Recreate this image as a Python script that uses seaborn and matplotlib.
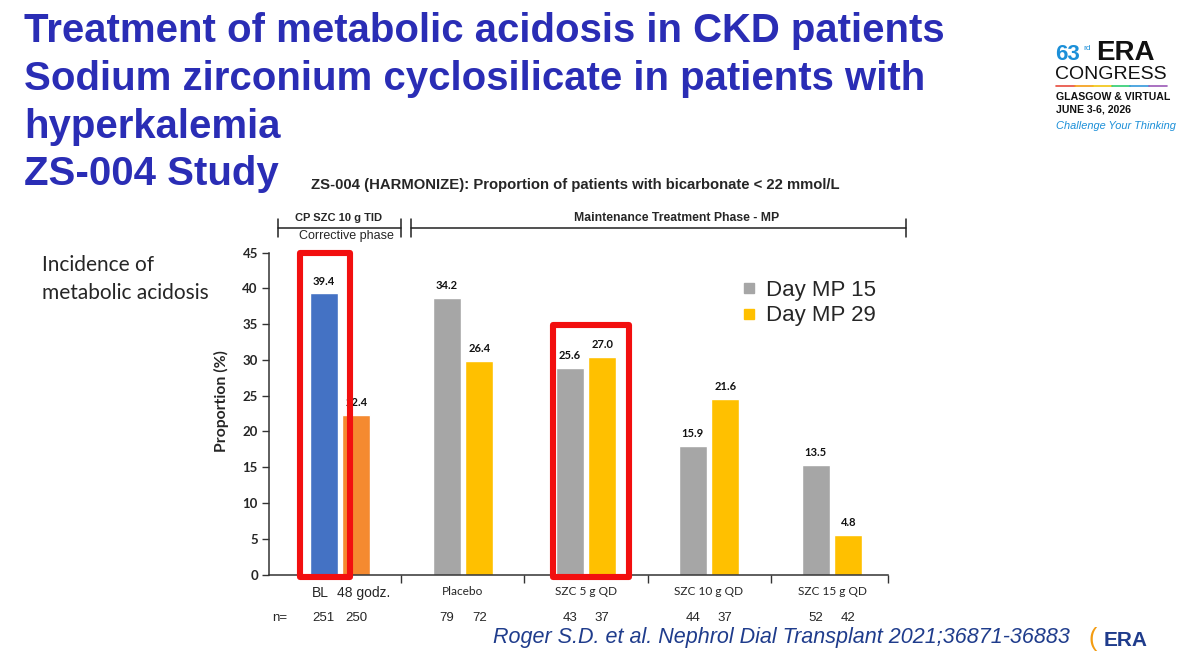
import numpy as np
import pandas as pd
import matplotlib.pyplot as plt
import seaborn as sns
from matplotlib.lines import Line2D
from matplotlib.patches import Rectangle

# values
groups = ["BL / 48 godz.", "Placebo", "SZC 5 g QD", "SZC 10 g QD", "SZC 15 g QD"]
day15_bar = [39.3, 38.7, 28.9, 18.0, 15.3]
day29_bar = [22.3, 29.8, 30.4, 24.5, 5.5]
day15_lbl = ["39.4", "34.2", "25.6", "15.9", "13.5"]
day29_lbl = ["22.4", "26.4", "27.0", "21.6", "4.8"]
n_day15 = [251, 79, 43, 44, 52]
n_day29 = [250, 72, 37, 37, 42]
tick_labels = ["BL", "48 godz.", "Placebo", "SZC 5 g QD", "SZC 10 g QD", "SZC 15 g QD"]
series = ["Day MP 15", "Day MP 29"]

df = pd.DataFrame({
    "group": groups * 2,
    "series": [series[0]] * 5 + [series[1]] * 5,
    "value": day15_bar + day29_bar,
})

sns.set_style("ticks")
plt.rcParams["font.family"] = ["Liberation Sans", "DejaVu Sans"]

W, H = 1200, 654
fig = plt.figure(figsize=(12, 6.54), dpi=100)


def fx(x):
    return x / W


def fy(y):
    return 1 - y / H


ax = fig.add_axes([fx(269), fy(574.5), (888 - 269) / W, (574.5 - 252.7) / H])

gray, yellow = "#A6A6A6", "#FFC000"
sns.barplot(data=df, x="group", y="value", hue="series", order=groups,
            hue_order=series, palette=[gray, yellow], width=0.53, gap=0.15,
            saturation=1, legend=False, ax=ax)

# corrective phase bars get their own colours
ax.containers[0][0].set_facecolor("#4472C4")
ax.containers[1][0].set_facecolor("#F58A30")

for cont, lbls in zip(ax.containers, [day15_lbl, day29_lbl]):
    ax.bar_label(cont, labels=lbls, padding=5, fontsize=8,
                 fontweight="bold", family="Lato", color="#111111")

ax.set_ylim(0, 45)
ax.set_xlim(-0.577, 4.455)
ax.set_yticks(range(0, 46, 5))
ax.set_xlabel("")
ax.set_ylabel("Proportion (%)", fontsize=11.3, fontweight="bold", family="Lato")
ax.yaxis.set_label_coords(-0.064, 0.54)
for t in ax.get_yticklabels():
    t.set_fontweight("bold")
    t.set_family("Lato")
    t.set_fontsize(9.5)
ax.tick_params(axis="y", length=5, width=1, color="#333333", pad=3)

bar15 = [p.get_x() + p.get_width() / 2 for p in ax.containers[0]]
bar29 = [p.get_x() + p.get_width() / 2 for p in ax.containers[1]]

# x labels: first group per bar, others per group
ax.set_xticks([bar15[0] - 0.03, bar29[0] + 0.06, 1, 2, 3, 4])
ax.set_xticklabels(tick_labels)
for i, t in enumerate(ax.get_xticklabels()):
    if i < 2:
        t.set_fontsize(10)
    else:
        t.set_fontsize(8.6)
        t.set_family("Lato")
ax.tick_params(axis="x", which="major", length=0, pad=8)
ax.set_xticks([0.5, 1.5, 2.5, 3.5, 4.455], minor=True)
ax.tick_params(axis="x", which="minor", length=6, width=1, color="#333333")

for s in ["left", "bottom"]:
    ax.spines[s].set_color("#333333")
    ax.spines[s].set_linewidth(1.1)
sns.despine(ax=ax)

# n row
tr = ax.get_xaxis_transform()
ax.text(-0.55, -0.134, "n=", transform=tr, ha="left", va="center", fontsize=9.5)
for x, n in zip(bar15 + bar29, n_day15 + n_day29):
    ax.text(x, -0.134, str(n), transform=tr, ha="center", va="center",
            fontsize=9.5, clip_on=False)

# red highlight boxes
def to_data(px, py):
    return (px - 340) / 123.0, (574.5 - py) * 45 / (574.5 - 252.7)


for x0, y0, x1, y1 in [(300.3, 253.4, 349.7, 577), (552.7, 324.5, 629, 577)]:
    (a, b), (c, d) = to_data(x0, y1), to_data(x1, y0)
    ax.add_patch(Rectangle((a, b), c - a, d - b, fill=False, edgecolor="#F20F0F",
                           linewidth=4.4, joinstyle="round", clip_on=False,
                           zorder=5))

# legend
handles = [Line2D([], [], marker="s", linestyle="none", markersize=7,
                  color=c) for c in [gray, yellow]]
fig.legend(handles, series, loc="upper left", bbox_to_anchor=(fx(742), fy(280)),
           frameon=False, fontsize=16, handlelength=0.6, handletextpad=0.5,
           labelspacing=0.2, borderpad=0, borderaxespad=0)

# phase brackets
def hline(x0, x1, y, tick=True):
    fig.add_artist(Line2D([fx(x0), fx(x1)], [fy(y), fy(y)], color="#222222", lw=1.1))
    if tick:
        for x in (x0, x1):
            fig.add_artist(Line2D([fx(x), fx(x)], [fy(219), fy(237)],
                                  color="#222222", lw=1.1))


hline(277.7, 401, 228.3)
hline(410.7, 906, 228.3)
fig.text(fx(339), fy(218), "CP SZC 10 g TID", ha="center", va="center",
         fontsize=8, fontweight="bold")
fig.text(fx(346), fy(236), "Corrective phase", ha="center", va="center", fontsize=9)
fig.text(fx(677), fy(218), "Maintenance Treatment Phase - MP", ha="center",
         va="center", fontsize=8.8, fontweight="bold")
fig.text(fx(575), fy(185),
         "ZS-004 (HARMONIZE): Proportion of patients with bicarbonate < 22 mmol/L",
         ha="center", va="center", fontsize=10.7, fontweight="bold")

# slide title
title_lines = ["Treatment of metabolic acidosis in CKD patients",
               "Sodium zirconium cyclosilicate in patients with",
               "hyperkalemia",
               "ZS-004 Study"]
for line, yb in zip(title_lines, [42, 90, 138, 185]):
    fig.text(fx(24), fy(yb), line, ha="left", va="baseline", fontsize=28.9,
             fontweight="bold", color="#2A2DB5")

fig.text(fx(42), fy(265), "Incidence of", ha="left", va="center",
         fontsize=15, family="Lato")
fig.text(fx(42), fy(293), "metabolic acidosis", ha="left", va="center",
         fontsize=15, family="Lato")

fig.text(fx(493), fy(638), "Roger S.D. et al. Nephrol Dial Transplant 2021;36871-36883",
         ha="left", va="center", fontsize=15.5, style="italic", color="#1F3C8C")

# congress logo (text only)
fig.text(fx(1055), fy(60), "63", ha="left", va="baseline", fontsize=16,
         fontweight="bold", color="#1B8FD8")
fig.text(fx(1083), fy(50), "rd", ha="left", va="baseline", fontsize=6,
         color="#1B8FD8")
fig.text(fx(1096), fy(60), "ERA", ha="left", va="baseline", fontsize=20,
         fontweight="bold", color="#111111")
fig.text(fx(1055), fy(79), "CONGRESS", ha="left", va="baseline", fontsize=14,
         color="#111111")
cols = ["#E84C3D", "#F39C12", "#F1C40F", "#2ECC71", "#3498DB", "#9B59B6"]
for i, c in enumerate(cols):
    fig.add_artist(Line2D([fx(1056 + i * 18.5), fx(1056 + (i + 1) * 18.5)],
                          [fy(86), fy(86)], color=c, lw=1.2))
fig.text(fx(1056), fy(100), "GLASGOW & VIRTUAL", ha="left", va="baseline",
         fontsize=7.6, fontweight="bold", color="#111111")
fig.text(fx(1056), fy(112), "JUNE 3-6, 2026", ha="left", va="baseline",
         fontsize=7.6, fontweight="bold", color="#111111")
fig.text(fx(1056), fy(129), "Challenge Your Thinking", ha="left", va="baseline",
         fontsize=7.9, style="italic", color="#1B8FD8")

# small ERA mark
fig.text(fx(1104), fy(646), "ERA", ha="left", va="baseline", fontsize=15,
         fontweight="bold", color="#1F3C8C")
fig.text(fx(1088), fy(646), "(", ha="left", va="baseline", fontsize=18,
         color="#F39C12")

fig.savefig("out.png", dpi=100, facecolor="white")
